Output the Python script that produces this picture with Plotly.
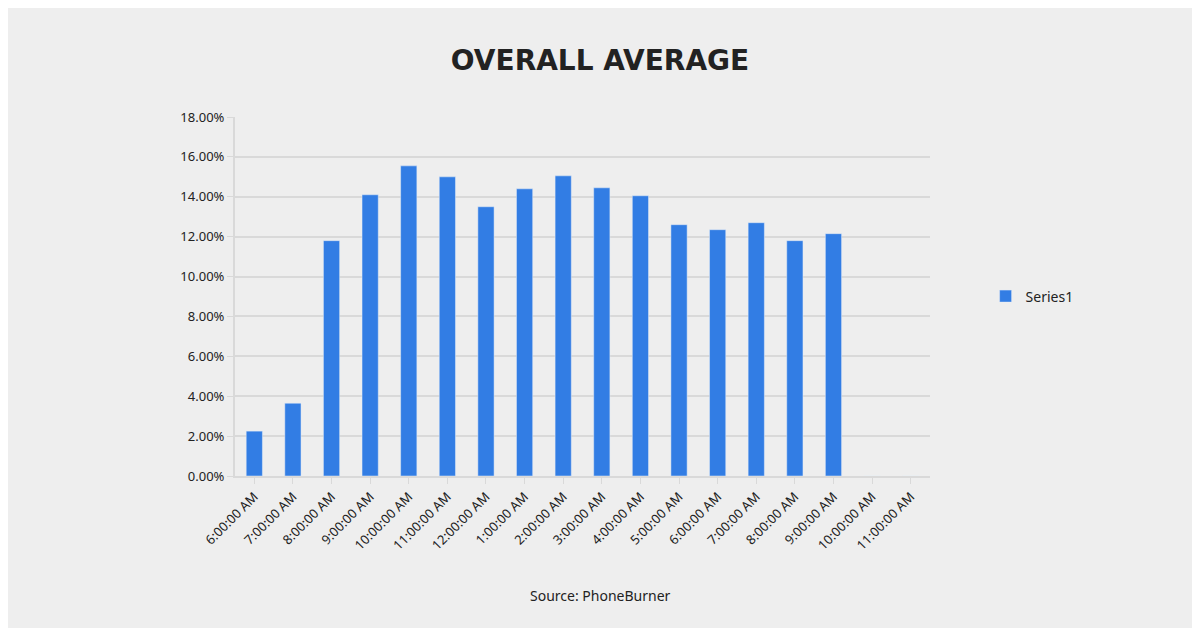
import plotly.graph_objects as go

# hourly labels as printed on the chart (the repeated AM labels are in the source)
hours = ['6:00:00 AM', '7:00:00 AM', '8:00:00 AM', '9:00:00 AM', '10:00:00 AM',
         '11:00:00 AM', '12:00:00 AM', '1:00:00 AM', '2:00:00 AM', '3:00:00 AM',
         '4:00:00 AM', '5:00:00 AM', '6:00:00 AM', '7:00:00 AM', '8:00:00 AM',
         '9:00:00 AM', '10:00:00 AM', '11:00:00 AM']
avg = [0.0225, 0.0365, 0.118, 0.141, 0.1555, 0.150, 0.135, 0.144, 0.1505,
       0.1445, 0.1405, 0.126, 0.1235, 0.127, 0.118, 0.1215, 0, 0]
pos = list(range(len(hours)))

# page body adds an 8px offset, so margins are shifted to compensate
L, R, T, B = 227, 278, 109, 160
W, H = 1200, 628

fig = go.Figure()
fig.add_trace(go.Bar(x=pos, y=avg, name='Series1', marker_color='#327de4',
                     width=0.42, showlegend=True))

fig.update_layout(
    width=W, height=H,
    paper_bgcolor='#eeeeee', plot_bgcolor='#eeeeee',
    font=dict(family='Noto Sans', color='#222222', size=13),
    title=dict(text='<b>OVERALL AVERAGE</b>', x=(600 - 8) / W, y=1 - (52 / H),
               xanchor='center', yanchor='middle',
               font=dict(family='DejaVu Sans', size=28, color='#222222')),
    margin=dict(l=L, r=R, t=T, b=B),
    legend=dict(x=1.08, y=0.5, yanchor='middle', font=dict(size=14),
                bgcolor='rgba(0,0,0,0)'),
    xaxis=dict(tickvals=pos, ticktext=hours, tickangle=-45, range=[-0.5, 17.5],
               showgrid=False, showline=True, linecolor='#d9d9d9', linewidth=2,
               ticks='outside', tickcolor='#d9d9d9', ticklen=6,
               tickfont=dict(size=13)),
    yaxis=dict(range=[0, 0.18], dtick=0.02, tickformat='.2%', gridcolor='#d9d9d9',
               gridwidth=2, showline=True, linecolor='#d9d9d9', linewidth=2,
               ticks='outside', tickcolor='#d9d9d9', ticklen=6, zeroline=False,
               tickfont=dict(size=13)),
)
fig.add_annotation(text='Source: PhoneBurner', xref='paper', yref='paper',
                   x=(592 - L) / (W - L - R), y=-(119) / (H - T - B),
                   showarrow=False, xanchor='center', yanchor='middle',
                   font=dict(size=14, color='#222222'))

fig.write_html("out.html")
